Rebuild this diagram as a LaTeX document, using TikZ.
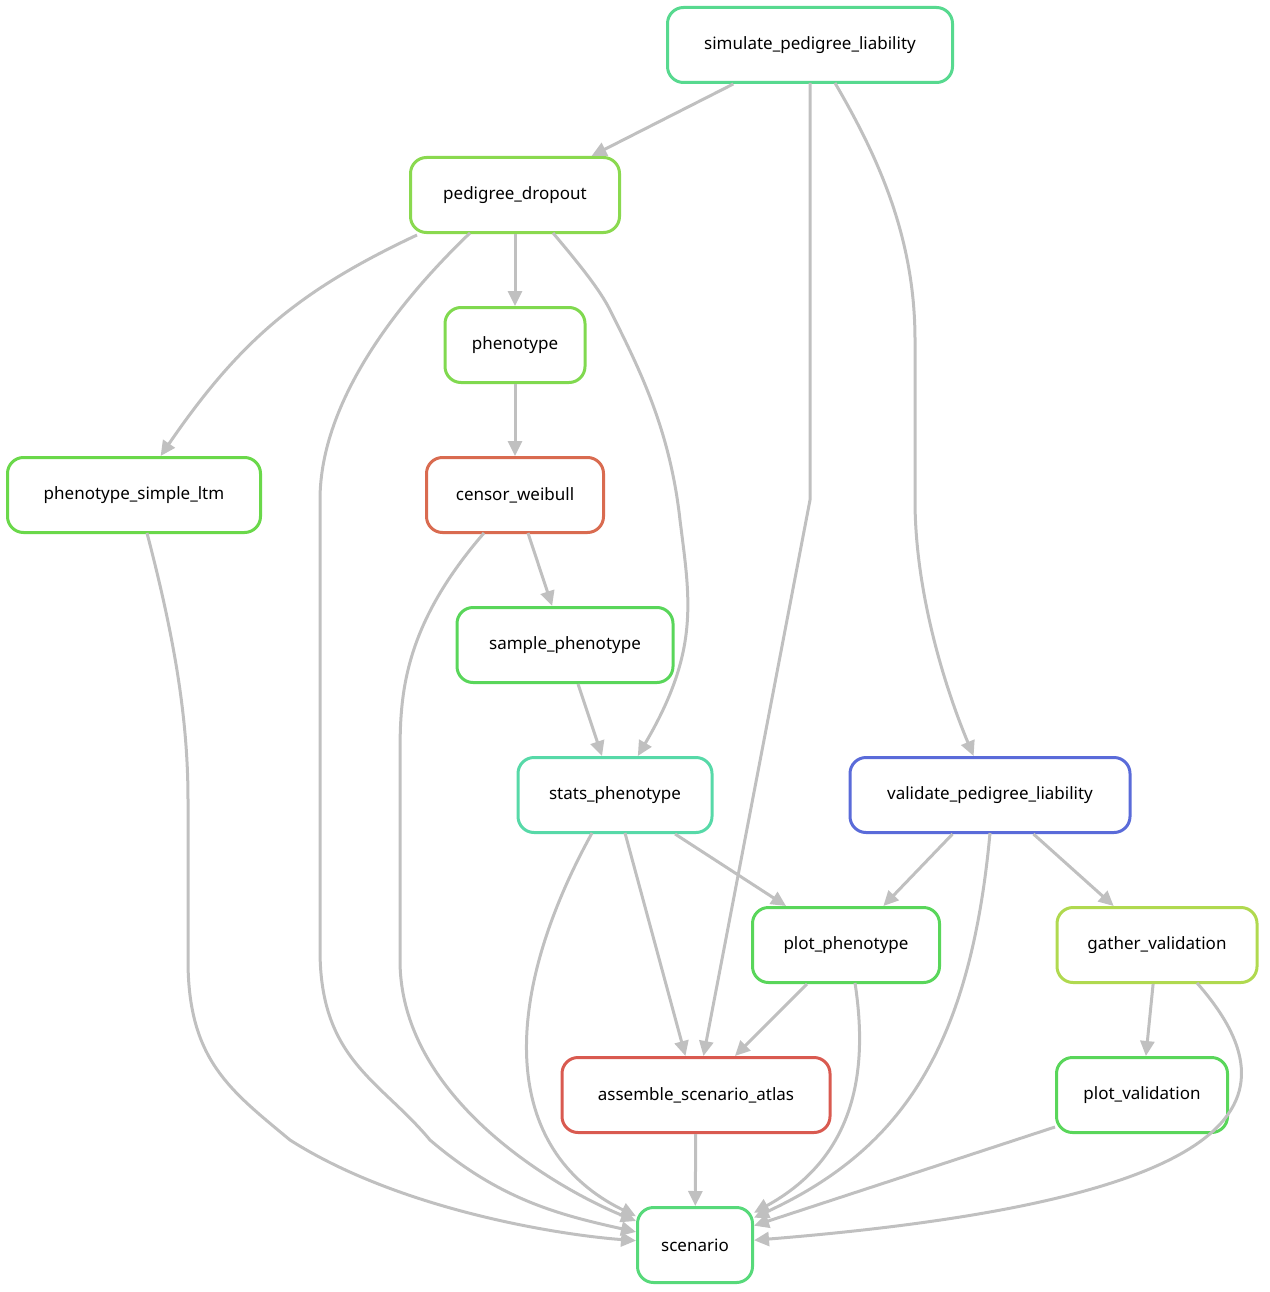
\documentclass[tikz,border=0pt]{standalone}
\usepackage{fontspec}
\setmainfont{Noto Sans}
\usetikzlibrary{arrows.meta}
\definecolor{eg}{HTML}{C0C0C0}
\definecolor{cA}{HTML}{57D98F}
\definecolor{cB}{HTML}{8AD94F}
\definecolor{cC}{HTML}{80D94F}
\definecolor{cD}{HTML}{6AD84A}
\definecolor{cE}{HTML}{D96B50}
\definecolor{cF}{HTML}{59D65A}
\definecolor{cG}{HTML}{57D9A8}
\definecolor{cH}{HTML}{5A6BD9}
\definecolor{cI}{HTML}{B0D94F}
\definecolor{cJ}{HTML}{D95A50}
\definecolor{cK}{HTML}{57D97A}
\begin{document}
\begin{tikzpicture}[x=1pt,y=-1pt,
  n/.style={draw=#1,line width=3pt,rounded corners=16pt,minimum height=75pt,inner xsep=14pt,fill=white,font=\fontsize{17}{20}\selectfont},
  e/.style={draw=eg,line width=3pt,-{Triangle[length=15pt,width=14pt]}}]
\useasboundingbox (0,0) rectangle (1269,1292);
\node[n=cA,minimum width=285pt] (sim) at (810,45) {simulate\_pedigree\_liability};
\node[n=cB,minimum width=209pt] (pd) at (515,195) {pedigree\_dropout};
\node[n=cC,minimum width=140pt] (ph) at (515,345) {phenotype};
\node[n=cD,minimum width=253pt] (ltm) at (134,495) {phenotype\_simple\_ltm};
\node[n=cE,minimum width=177pt] (cw) at (515,495) {censor\_weibull};
\node[n=cF,minimum width=216pt] (sp) at (565,645) {sample\_phenotype};
\node[n=cG,minimum width=194pt] (st) at (615,795) {stats\_phenotype};
\node[n=cH,minimum width=280pt] (val) at (990,795) {validate\_pedigree\_liability};
\node[n=cF,minimum width=187pt] (pp) at (846,945) {plot\_phenotype};
\node[n=cI,minimum width=200pt] (gv) at (1157,945) {gather\_validation};
\node[n=cJ,minimum width=268pt] (as) at (696,1095) {assemble\_scenario\_atlas};
\node[n=cF,minimum width=171pt] (pv) at (1142,1095) {plot\_validation};
\node[n=cK,minimum width=115pt] (sc) at (695,1245) {scenario};

\draw[e] (sim) -- (pd);
\draw[e] (810,83) -- (810,500) -- (as);
\draw[e] (835,83) .. controls (880,160) and (915,240) .. (915,340) -- (915,500) .. controls (915,600) and (950,700) .. (val);
\draw[e] (pd) -- (ph);
\draw[e] (417,235) .. controls (300,290) and (240,340) .. (ltm);
\draw[e] (470,233) .. controls (400,300) and (320,400) .. (320,500) -- (320,950) .. controls (320,1060) and (380,1080) .. (430,1140) .. controls (500,1200) and (560,1215) .. (sc);
\draw[e] (553,233) .. controls (580,265) and (600,290) .. (610,310) .. controls (640,370) and (670,430) .. (680,520) .. controls (690,600) and (700,650) .. (st);
\draw[e] (ph) -- (cw);
\draw[e] (528,533) -- (sp);
\draw[e] (484,533) .. controls (400,630) and (400,700) .. (400,760) -- (400,960) .. controls (400,1100) and (560,1190) .. (sc);
\draw[e] (sp) -- (st);
\draw[e] (147,533) .. controls (175,640) and (188,720) .. (188,800) -- (188,960) .. controls (188,1060) and (230,1090) .. (290,1140) .. controls (400,1210) and (560,1235) .. (sc);
\draw[e] (st) -- (pp);
\draw[e] (625,833) -- (as);
\draw[e] (592,833) .. controls (500,1000) and (500,1150) .. (sc);
\draw[e] (val) -- (pp);
\draw[e] (val) -- (gv);
\draw[e] (990,833) .. controls (970,1050) and (900,1150) .. (sc);
\draw[e] (pp) -- (as);
\draw[e] (855,983) .. controls (870,1080) and (850,1160) .. (sc);
\draw[e] (gv) -- (pv);
\draw[e] (1197,983) .. controls (1300,1100) and (1250,1200) .. (sc);
\draw[e] (1055,1127) -- (sc);
\draw[e] (as) -- (sc);
\end{tikzpicture}
\end{document}
